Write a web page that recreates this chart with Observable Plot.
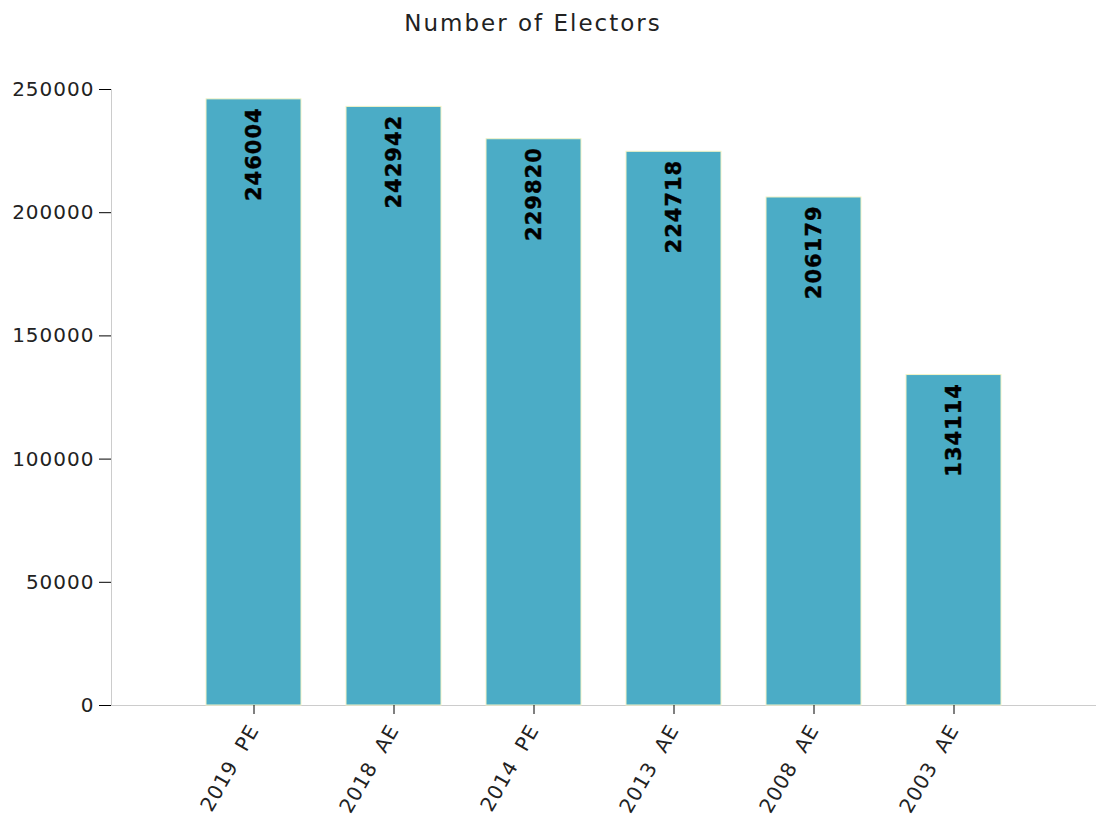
<!DOCTYPE html>
<html>
<head>
<meta charset="utf-8">
<script src="https://cdn.jsdelivr.net/npm/d3@7"></script>
<script src="https://cdn.jsdelivr.net/npm/@observablehq/plot@0.6"></script>
<style>
  html, body { margin: 0; padding: 0; background: #fff; }
  #title { width: 1066px; height: 40px; text-align: center; font-family: "DejaVu Sans", Verdana, sans-serif; font-size: 23px; letter-spacing: 2px; color: #222; line-height: 46px; }
  #chart svg { display: block; }
</style>
</head>
<body>
<div id="title">Number of Electors</div>
<div id="chart"></div>
<script>
const elections = ["2019 PE", "2018 AE", "2014 PE", "2013 AE", "2008 AE", "2003 AE"];
const electors = [246004, 242942, 229820, 224718, 206179, 134114];
const yTicks = [0, 50000, 100000, 150000, 200000, 250000];

const data = elections.map((e, i) => ({election: e, electors: electors[i]}));

const chart = Plot.plot({
  width: 1096,
  height: 778,
  marginTop: 49,
  marginBottom: 113,
  marginLeft: 111,
  marginRight: 0,
  style: {fontFamily: "DejaVu Sans, Verdana, sans-serif", fontSize: "20px", letterSpacing: "1px", color: "#222", background: "#fff"},
  x: {domain: elections, paddingInner: 0.32, paddingOuter: 0.656, align: 0.5},
  y: {domain: [0, 250000]},
  marks: [
    Plot.frame({anchor: "left", stroke: "#ccc"}),
    Plot.ruleY([0], {stroke: "#ccc"}),
    Plot.barY(data, {x: "election", y: "electors", fill: "#4BACC6", stroke: "#f4f4c6", strokeWidth: 1}),
    Plot.text(data, {x: "election", y: "electors", text: d => String(d.electors), rotate: -90, textAnchor: "end", dy: 8, fill: "#000", fontWeight: "bold", fontSize: 21, letterSpacing: 3.3, stroke: "#000", strokeWidth: 0.4}),
    Plot.axisY({ticks: yTicks, tickSize: 12, tickPadding: 5, tickFormat: d => String(d), label: null, stroke: "#000"}),
    Plot.axisX({tickSize: 9, tickRotate: -60, tickPadding: 12, label: null, tickFormat: d => d.replace(" ", "\u00a0\u00a0"), stroke: "#000"})
  ]
});
document.getElementById("chart").appendChild(chart);
</script>
</body>
</html>
